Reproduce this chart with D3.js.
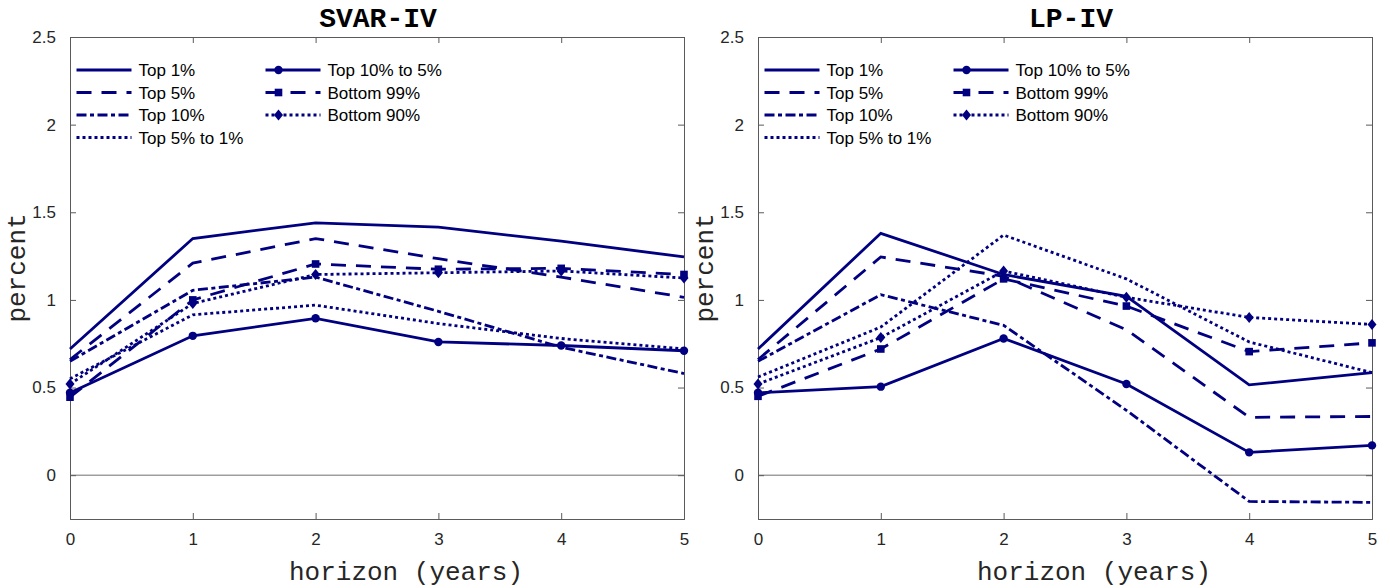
<!DOCTYPE html>
<html><head><meta charset="utf-8">
<script src="https://cdn.jsdelivr.net/npm/d3@7"></script>
<style>body{margin:0;background:#fff}</style>
</head><body><svg id="c" width="1390" height="588"></svg>
<script>
const horizons=[0,1,2,3,4,5];
const seriesNames=["Top 1%","Top 5%","Top 10%","Top 5% to 1%","Top 10% to 5%","Bottom 99%","Bottom 90%"];
const yTicks=[0,0.5,1,1.5,2,2.5];
const xTicks=[0,1,2,3,4,5];
const panelTitles=["SVAR-IV","LP-IV"];
const xLabel="horizon (years)";
const yLabel="percent";
// SVAR-IV
const svarTop1=[0.72,1.35,1.44,1.415,1.335,1.245];
const svarTop5=[0.66,1.21,1.35,1.235,1.13,1.015];
const svarTop10=[0.65,1.055,1.13,0.935,0.73,0.58];
const svarTop5to1=[0.55,0.915,0.97,0.865,0.78,0.72];
const svarTop10to5=[0.47,0.795,0.895,0.76,0.74,0.71];
const svarBottom99=[0.445,1.0,1.205,1.175,1.18,1.145];
const svarBottom90=[0.52,0.98,1.145,1.155,1.165,1.125];
// LP-IV
const lpTop1=[0.72,1.38,1.145,1.02,0.515,0.585];
const lpTop5=[0.66,1.245,1.135,0.83,0.33,0.335];
const lpTop10=[0.65,1.03,0.855,0.37,-0.15,-0.155];
const lpTop5to1=[0.56,0.845,1.37,1.12,0.76,0.585];
const lpTop10to5=[0.47,0.505,0.78,0.52,0.13,0.17];
const lpBottom99=[0.45,0.72,1.12,0.965,0.705,0.755];
const lpBottom90=[0.52,0.785,1.165,1.015,0.9,0.86];

const panelData=[
  [svarTop1,svarTop5,svarTop10,svarTop5to1,svarTop10to5,svarBottom99,svarBottom90],
  [lpTop1,lpTop5,lpTop10,lpTop5to1,lpTop10to5,lpBottom99,lpBottom90]
];

const NAVY="#000080";
const styles=[
  {dash:null,marker:null},
  {dash:"15,10",marker:null},
  {dash:"10,3.5,4,3.5",marker:null},
  {dash:"3,3",marker:null},
  {dash:null,marker:"circle"},
  {dash:"15,10",marker:"square"},
  {dash:"3,3",marker:"diamond"}
];
const AX="#5a5a5a", TXT="#262626";
const svg=d3.select("#c");
const panels=[{x0:70,x1:684,titleDx:1},{x0:758,x1:1372,titleDx:6}];
const plotTop=37,plotBottom=519;

function drawMarker(g,type,cx,cy){
  if(type==="circle"){
    g.append("circle").attr("cx",cx).attr("cy",cy).attr("r",4.2).attr("fill",NAVY);
  }else if(type==="square"){
    g.append("rect").attr("x",cx-3.8).attr("y",cy-3.8).attr("width",7.6).attr("height",7.6).attr("fill",NAVY);
  }else if(type==="diamond"){
    g.append("path").attr("d",`M${cx},${cy-5.5}L${cx+4.5},${cy}L${cx},${cy+5.5}L${cx-4.5},${cy}Z`).attr("fill",NAVY);
  }
}

panels.forEach((p,pi)=>{
  const x=d3.scaleLinear().domain([0,5]).range([p.x0,p.x1]);
  const y=d3.scaleLinear().domain([-0.25,2.5]).range([plotBottom,plotTop]);
  const g=svg.append("g");
  g.append("line").attr("x1",p.x0).attr("x2",p.x1).attr("y1",y(0)).attr("y2",y(0))
    .attr("stroke","#6e6e6e").attr("stroke-width",1);
  const ax=g.append("g").attr("class","axes");
  ax.append("g").attr("transform",`translate(0,${plotBottom})`)
    .call(d3.axisBottom(x).tickValues(xTicks).tickSize(-6).tickPadding(14).tickFormat(d3.format("d")));
  ax.append("g").attr("transform",`translate(0,${plotTop})`)
    .call(d3.axisTop(x).tickValues(xTicks).tickSize(-6).tickFormat(""));
  ax.append("g").attr("transform",`translate(${p.x0},0)`)
    .call(d3.axisLeft(y).tickValues(yTicks).tickSize(-6).tickPadding(14).tickFormat(d=>String(d)));
  ax.append("g").attr("transform",`translate(${p.x1},0)`)
    .call(d3.axisRight(y).tickValues(yTicks).tickSize(-6).tickFormat(""));
  ax.selectAll(".domain").attr("stroke",AX).attr("stroke-width",1);
  ax.selectAll(".tick line").attr("stroke",AX).attr("stroke-width",1);
  ax.selectAll(".tick text").attr("fill",TXT).style("font-family","'Liberation Sans',Arial,sans-serif").style("font-size","17px");

  const line=d3.line().x((d,i)=>x(horizons[i])).y(d=>y(d));
  panelData[pi].forEach((vals,si)=>{
    const st=styles[si];
    g.append("path").attr("d",line(vals)).attr("fill","none").attr("stroke",NAVY)
      .attr("stroke-width",2.8).attr("stroke-linejoin","miter")
      .attr("stroke-dasharray",st.dash);
    if(st.marker){
      vals.forEach((v,i)=>drawMarker(g,st.marker,x(horizons[i]),y(v)));
    }
  });

  const lg=g.append("g");
  seriesNames.forEach((name,si)=>{
    const col=si<4?0:1, row=si<4?si:si-4;
    const lx=p.x0+6.5+col*189, ly=70+row*22.5;
    const st=styles[si];
    lg.append("line").attr("x1",lx).attr("x2",lx+55).attr("y1",ly).attr("y2",ly)
      .attr("stroke",NAVY).attr("stroke-width",2.8).attr("stroke-dasharray",st.dash);
    if(st.marker) drawMarker(lg,st.marker,lx+13,ly);
    lg.append("text").attr("x",lx+62).attr("y",ly).attr("dy","0.36em")
      .attr("fill","#000").style("font-family","'Liberation Sans',Arial,sans-serif").style("font-size","17px")
      .text(name);
  });

  g.append("text").attr("x",(p.x0+p.x1)/2+p.titleDx).attr("y",27).attr("text-anchor","middle")
    .style("font-family","'Liberation Mono','Courier New',monospace").style("font-weight","bold")
    .style("font-size","28px").attr("fill","#000").text(panelTitles[pi]);
  g.append("text").attr("x",(p.x0+p.x1)/2+29).attr("y",580).attr("text-anchor","middle")
    .style("font-family","'Liberation Mono','Courier New',monospace").style("font-size","26px")
    .attr("fill",TXT).text(xLabel);
  g.append("text").attr("transform",`translate(${p.x0-45},268) rotate(-90)`).attr("text-anchor","middle")
    .style("font-family","'Liberation Mono','Courier New',monospace").style("font-size","26px")
    .attr("fill",TXT).text(yLabel);
});
</script></body></html>
